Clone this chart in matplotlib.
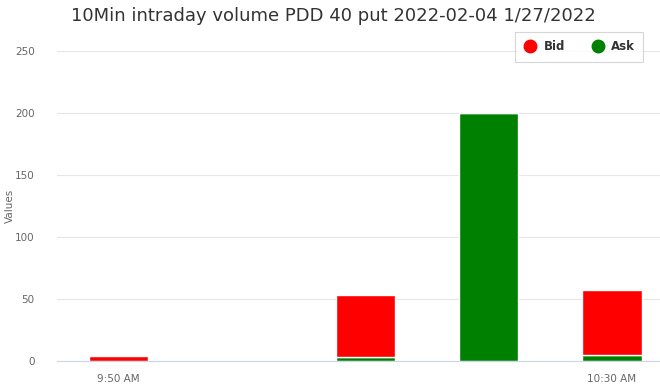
import numpy as np
import matplotlib
matplotlib.use('Agg')
import matplotlib.pyplot as plt
from matplotlib.lines import Line2D

# data
times = ['9:50 AM', '10:00 AM', '10:10 AM', '10:20 AM', '10:30 AM']
shown_labels = ['9:50 AM', '', '', '', '10:30 AM']
ask = [0, 0, 3, 200, 5]
bid = [4, 0, 50, 0, 52]
yticks = [0, 50, 100, 150, 200, 250]

fig = plt.figure(figsize=(6.6, 3.85), dpi=100)
W, H = 660.0, 385.0
left, right, top, bottom = 57, 660, 51, 361
ax = fig.add_axes([left / W, 1 - bottom / H, (right - left) / W, (bottom - top) / H])

x = np.arange(len(times))
width = 0.48
ax.bar(x, ask, width, color='#008000', edgecolor='white', linewidth=1, zorder=3)
ax.bar(x, bid, width, bottom=ask, color='#ff0000', edgecolor='white', linewidth=1, zorder=3)

ax.set_xlim(-0.5, 4.5 - 13.75 / 123.5)
ax.set_ylim(0, 250)
ax.set_yticks(yticks)
ax.set_yticklabels([str(v) for v in yticks], color='#666666', fontsize=7.5)
ax.set_xticks(x)
ax.set_xticklabels(shown_labels, color='#666666', fontsize=7.5)
ax.tick_params(axis='both', length=0)
ax.tick_params(axis='y', pad=16)
ax.tick_params(axis='x', pad=9)

ax.grid(axis='y', color='#e6e6e6', linewidth=0.8, zorder=0)
for s in ['top', 'right', 'left']:
    ax.spines[s].set_visible(False)
ax.spines['bottom'].set_color('#ccd6eb')
ax.spines['bottom'].set_zorder(4)

fig.text(5 / W, 1 - 206 / H, 'Values', rotation=90, va='center', ha='left',
         color='#666666', fontsize=7.5)
fig.text(333 / W, 1 - 16 / H, '10Min intraday volume PDD 40 put 2022-02-04 1/27/2022',
         ha='center', va='center', color='#333333', fontsize=13)

handles = [Line2D([], [], marker='o', linestyle='', markersize=9, color='#ff0000'),
           Line2D([], [], marker='o', linestyle='', markersize=9, color='#008000')]
leg = ax.legend(handles, ['Bid', 'Ask'], loc='upper right', ncol=2, frameon=True,
                fancybox=False, edgecolor='#cccccc', fontsize=8.5,
                bbox_to_anchor=(643 / W, 1 - 32 / H), bbox_transform=fig.transFigure,
                handletextpad=0.5, columnspacing=2.2, borderpad=0.7, handlelength=1.2,
                borderaxespad=0)
leg.get_frame().set_linewidth(0.8)
for t in leg.get_texts():
    t.set_color('#333333')
    t.set_fontweight('bold')

fig.savefig('out.png', dpi=100)
